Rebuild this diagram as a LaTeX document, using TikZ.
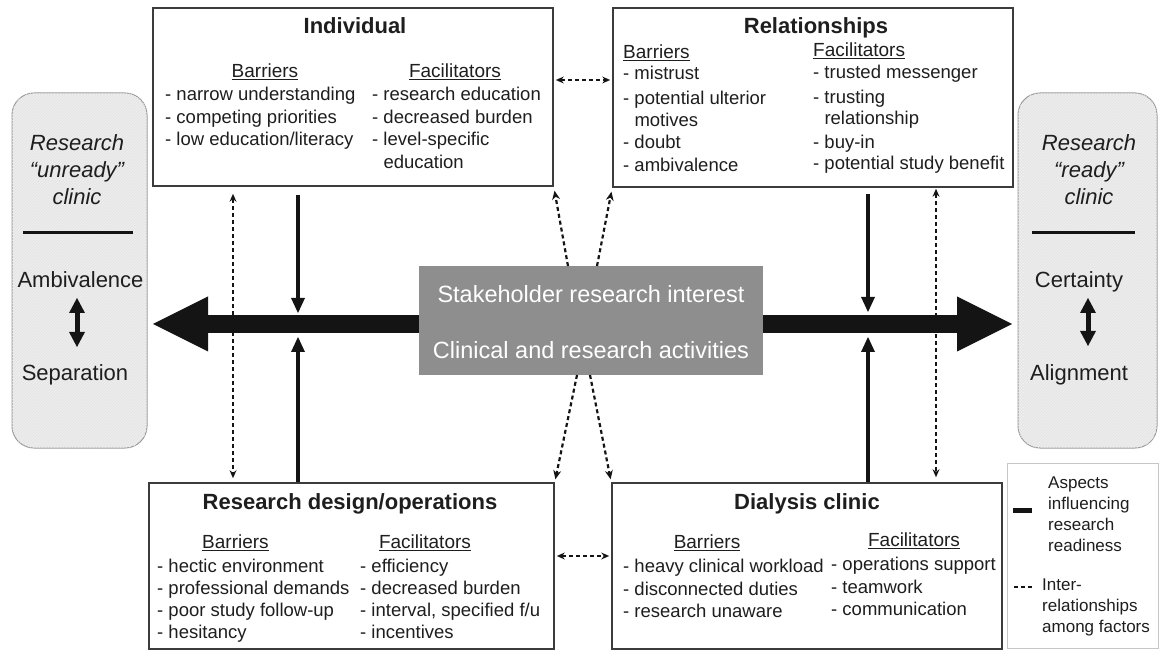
\documentclass[tikz,border=0pt]{standalone}
\usepackage{fontspec}
\setmainfont{Liberation Sans}
\usetikzlibrary{arrows.meta,patterns}
\definecolor{boxc}{HTML}{3C3C3C}
\definecolor{txt}{HTML}{1E1E1E}
\definecolor{ctrf}{HTML}{8E8E8E}
\definecolor{capf}{HTML}{EDEDED}
\definecolor{capd}{HTML}{9A9A9A}
\definecolor{arrc}{HTML}{141414}
\begin{document}
\begin{tikzpicture}[x=1pt,y=-1pt,
  box/.style={draw=boxc, line width=1.6pt, fill=white, inner sep=0pt},
  capsule/.style={draw=capd, line width=1pt, fill=capf, rounded corners=22pt, inner sep=0pt,
    postaction={pattern=north east lines, pattern color=gray!22}},
  ttl/.style={font=\fontsize{22}{26}\selectfont\bfseries, text=txt, inner sep=0pt, text height=17pt, text depth=2pt},
  hdr/.style={font=\fontsize{19}{22}\selectfont, text=txt, inner sep=0pt, text height=15pt, text depth=2pt},
  itemtxt/.style={anchor=west, font=\fontsize{18.5}{22}\selectfont, text=txt, inner sep=0pt, text height=14pt, text depth=3pt},
  capt/.style={font=\fontsize{22}{26}\selectfont, text=txt, inner sep=0pt, text height=17pt, text depth=2pt},
  capit/.style={capt, font=\fontsize{22}{26}\selectfont\itshape},
  ctext/.style={font=\fontsize{23.5}{28}\selectfont, text=white, inner sep=0pt, text height=17pt, text depth=2pt},
  legt/.style={anchor=west, font=\fontsize{17}{20}\selectfont, text=txt, inner sep=0pt, text height=13pt, text depth=3pt},
  bigarr/.style={draw=arrc, line width=18pt, -{Triangle[length=55pt,width=55pt,line width=0pt]}},
  solidarr/.style={draw=arrc, line width=4pt, -{Triangle[length=15pt,width=14pt,line width=0pt]}},
  capdbl/.style={draw=arrc, line width=5pt, {Triangle[length=15pt,width=16pt,line width=0pt]}-{Triangle[length=15pt,width=16pt,line width=0pt]}},
  dashln/.style={draw=arrc, line width=1.6pt, dash pattern=on 4pt off 3pt},
  dbl/.style={dashln, {Stealth[length=8pt,width=7pt,line width=0pt]}-{Stealth[length=8pt,width=7pt,line width=0pt]}},
  sarr/.style={dashln, line width=2.2pt, -{Stealth[length=9pt,width=8pt,line width=0pt]}}
]
\useasboundingbox (0,0) rectangle (1160,652);
\fill[white] (0,0) rectangle (1160,652);

% side capsules
\node[capsule, minimum width=135pt, minimum height=355pt] (lcap) at (79.5,270.5) {};
\node[capsule, minimum width=139pt, minimum height=355pt] (rcap) at (1087.5,270.5) {};

% legend
\node[draw=gray!45, line width=1pt, minimum width=151pt, minimum height=185pt, inner sep=0pt] (leg) at (1082.5,555.5) {};

% boxes
\node[box, minimum width=400pt, minimum height=178pt] (ind) at (353,97) {};
\node[box, minimum width=400pt, minimum height=179pt] (rel) at (813,97.5) {};
\node[box, minimum width=405pt, minimum height=166pt] (rdo) at (351.5,566) {};
\node[box, minimum width=390pt, minimum height=166pt] (dia) at (807,566) {};
\node[fill=ctrf, minimum width=344pt, minimum height=109pt, inner sep=0pt] (ctr) at (591,320.5) {};

% capsule texts
\node[capit] (lr1) at (77,143) {Research};
\node[capit] (lr2) at (77,170) {“unready”};
\node[capit] (lr3) at (77,197) {clinic};
\draw[arrc, line width=3pt] (23,233) -- (133,233);
\node[capt] (amb) at (80.5,280) {Ambivalence};
\node[capt] (sep) at (75,373) {Separation};
\coordinate (la1) at (77,298);
\coordinate (la2) at (77,347);
\draw[capdbl] (la1) -- (la2);

\node[capit] (rr1) at (1089,143) {Research};
\node[capit] (rr2) at (1089,170) {“ready”};
\node[capit] (rr3) at (1089,197) {clinic};
\draw[arrc, line width=3pt] (1032,233) -- (1135,233);
\node[capt] (cer) at (1079,280) {Certainty};
\node[capt] (ali) at (1079,373) {Alignment};
\coordinate (ra1) at (1088,298);
\coordinate (ra2) at (1088,346);
\draw[capdbl] (ra1) -- (ra2);

% Individual
\node[ttl] (indt) at (355,26) {Individual};
\node[hdr] (indb) at (265,71) {\underline{Barriers}};
\node[hdr] (indf) at (455,71) {\underline{Facilitators}};
\foreach \t [count=\k] in {- narrow understanding, - competing priorities, - low education/literacy}
  \node[itemtxt] (ib\k) at (165,95+22.7*\k-22.7) {\t};
\foreach \t [count=\k] in {- research education, - decreased burden, - level-specific, \hphantom{-\ }education}
  \node[itemtxt] (if\k) at (372,95+22.7*\k-22.7) {\t};

% Relationships
\node[ttl] (relt) at (816,26) {Relationships};
\node[hdr, anchor=west] (relb) at (623,52) {\underline{Barriers}};
\node[hdr, anchor=west] (relf) at (813,50) {\underline{Facilitators}};
\foreach \t/\yy [count=\k] in {{- mistrust}/74, {- potential ulterior}/99, {\hphantom{-\ }motives}/121, {- doubt}/143, {- ambivalence}/166}
  \node[itemtxt] (rb\k) at (623,\yy) {\t};
\foreach \t/\yy [count=\k] in {{- trusted messenger}/73, {- trusting}/98, {\hphantom{-\ }relationship}/119, {- buy-in}/143, {- potential study benefit}/164}
  \node[itemtxt] (rf\k) at (813,\yy) {\t};

% Research design/operations
\node[ttl] (rdot) at (350,502) {Research design/operations};
\node[hdr] (rdob) at (235.5,542) {\underline{Barriers}};
\node[hdr] (rdof) at (425,542) {\underline{Facilitators}};
\foreach \t [count=\k] in {- hectic environment, - professional demands, - poor study follow-up, - hesitancy}
  \node[itemtxt] (db\k) at (157,567+22*\k-22) {\t};
\foreach \t [count=\k] in {- efficiency, - decreased burden, {- interval, specified f/u}, - incentives}
  \node[itemtxt] (df\k) at (360,567+22*\k-22) {\t};

% Dialysis clinic
\node[ttl] (diat) at (807,502) {Dialysis clinic};
\node[hdr] (diab) at (707,542) {\underline{Barriers}};
\node[hdr] (diaf) at (914,540) {\underline{Facilitators}};
\foreach \t [count=\k] in {- heavy clinical workload, - disconnected duties, - research unaware}
  \node[itemtxt] (cb\k) at (623,567+22.5*\k-22.5) {\t};
\foreach \t [count=\k] in {- operations support, - teamwork, - communication}
  \node[itemtxt] (cf\k) at (831,565+22.5*\k-22.5) {\t};

% center texts
\node[ctext] (ct1) at (591,295) {Stakeholder research interest};
\node[ctext] (ct2) at (591,351) {Clinical and research activities};

% big arrows
\coordinate (lt) at (153,324);
\coordinate (rt) at (1012,324);
\draw[bigarr] (ctr.west |- lt) -- (lt);
\draw[bigarr] (ctr.east |- rt) -- (rt);

% small solid arrows
\coordinate (tL1) at (298,313);
\coordinate (tL2) at (298,337);
\coordinate (tR1) at (868,312);
\coordinate (tR2) at (868,337);
\draw[solidarr, shorten <=8pt] (ind.south -| tL1) -- (tL1);
\draw[solidarr] (rdo.north -| tL2) -- (tL2);
\draw[solidarr, shorten <=6pt] (rel.south -| tR1) -- (tR1);
\draw[solidarr] (dia.north -| tR2) -- (tR2);

% dashed interrelationships
\coordinate (dL) at (233,330);
\coordinate (dR) at (936,330);
\coordinate (hT) at (583,80);
\coordinate (hB) at (583,556);
\draw[dbl, shorten <=7pt, shorten >=4pt] (ind.south -| dL) -- (rdo.north -| dL);
\draw[dbl, shorten <=1pt, shorten >=5pt] (rel.south -| dR) -- (dia.north -| dR);
\draw[dbl, shorten <=2pt, shorten >=2pt] (ind.east |- hT) -- (rel.west |- hT);
\draw[dbl, shorten <=2pt, shorten >=2pt] (rdo.east |- hB) -- (dia.west |- hB);
\coordinate (c1) at (568,266);
\coordinate (c2) at (597,266);
\coordinate (c3) at (577,375);
\coordinate (c4) at (590,375);
\draw[sarr, shorten >=4pt] (c1) -- (ind.south east);
\draw[sarr, shorten >=4pt] (c2) -- (rel.south west);
\draw[sarr, shorten >=3pt] (c3) -- (rdo.north east);
\draw[sarr, shorten >=3pt] (c4) -- (dia.north west);

% legend contents
\coordinate (ls1) at (1013,510);
\coordinate (ls2) at (1032,510);
\draw[arrc, line width=5pt] (ls1) -- (ls2);
\coordinate (ld1) at (1014,587);
\coordinate (ld2) at (1032,587);
\draw[dashln] (ld1) -- (ld2);
\foreach \t [count=\k] in {Aspects, influencing, research, readiness}
  \node[legt] (la\k) at (1048,483+21*\k-21) {\t};
\foreach \t [count=\k] in {Inter-, relationships, among factors}
  \node[legt] (lb\k) at (1042,585+21*\k-21) {\t};
\end{tikzpicture}
\end{document}
